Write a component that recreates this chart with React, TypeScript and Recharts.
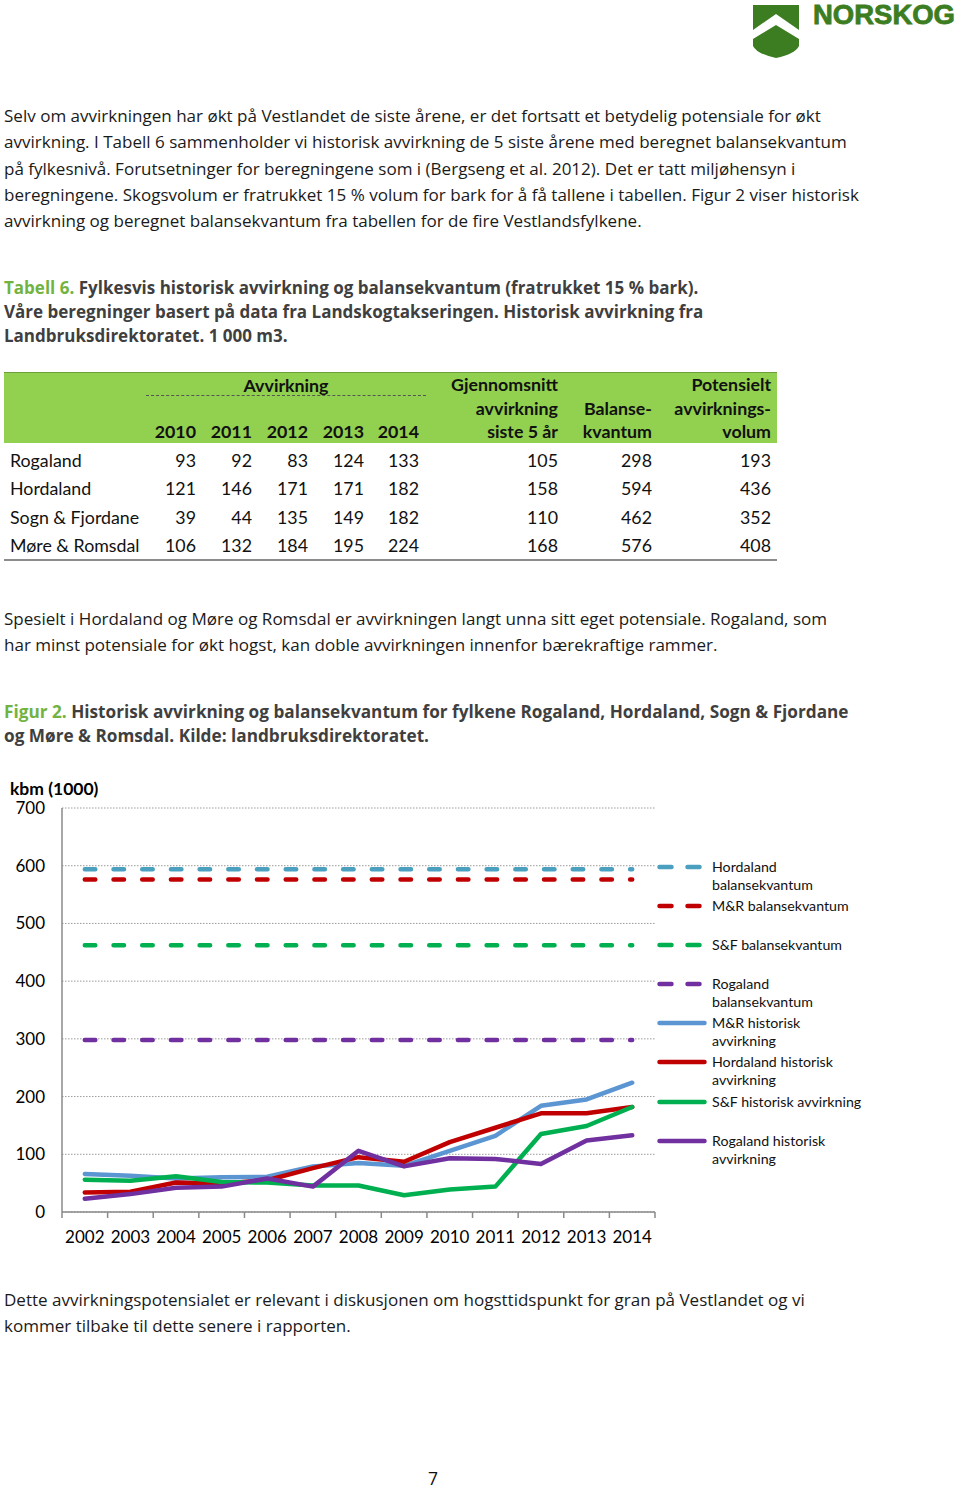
import React from "react";
import { LineChart, Line, XAxis, YAxis, CartesianGrid } from "recharts";

// ---- figure data (1 000 m3) ----
const years = ["2002", "2003", "2004", "2005", "2006", "2007", "2008", "2009", "2010", "2011", "2012", "2013", "2014"];
const rogalandHist = [23, 31, 42, 44, 58, 44, 106, 79, 93, 92, 83, 124, 133];
const hordalandHist = [34, 35, 51, 49, 55, 76, 95, 87, 121, 146, 171, 171, 182];
const sfHist = [56, 54, 62, 52, 51, 46, 46, 29, 39, 44, 135, 149, 182];
const mrHist = [66, 63, 58, 60, 61, 79, 85, 80, 106, 132, 184, 195, 224];
const hordalandBal = 594;
const mrBal = 576;
const sfBal = 462;
const rogalandBal = 298;
const yTicks = [0, 100, 200, 300, 400, 500, 600, 700];

// ---- table data ----
const tableYears = ["2010", "2011", "2012", "2013", "2014"];
const counties = ["Rogaland", "Hordaland", "Sogn & Fjordane", "Møre & Romsdal"];
const avvirkning = [
  [93, 92, 83, 124, 133],
  [121, 146, 171, 171, 182],
  [39, 44, 135, 149, 182],
  [106, 132, 184, 195, 224],
];
const snitt5 = [105, 158, 110, 168];
const balanse = [298, 594, 462, 576];
const potensial = [193, 436, 352, 408];

const chartData = years.map((y, i) => ({
  year: y,
  hBal: hordalandBal,
  mBal: mrBal,
  sBal: sfBal,
  rBal: rogalandBal,
  mHist: mrHist[i],
  hHist: hordalandHist[i],
  sHist: sfHist[i],
  rHist: rogalandHist[i],
}));

const series = [
  { key: "hBal", name: ["Hordaland", "balansekvantum"], color: "#4BA0C0", dashed: true },
  { key: "mBal", name: ["M&R balansekvantum"], color: "#C00000", dashed: true },
  { key: "sBal", name: ["S&F balansekvantum"], color: "#00B050", dashed: true },
  { key: "rBal", name: ["Rogaland", "balansekvantum"], color: "#7030A0", dashed: true },
  { key: "mHist", name: ["M&R historisk", "avvirkning"], color: "#5B95D2", dashed: false },
  { key: "hHist", name: ["Hordaland historisk", "avvirkning"], color: "#C00000", dashed: false },
  { key: "sHist", name: ["S&F historisk avvirkning"], color: "#00B050", dashed: false },
  { key: "rHist", name: ["Rogaland historisk", "avvirkning"], color: "#7030A0", dashed: false },
];

const CHART_FONT = "Lato, 'Liberation Sans', sans-serif";
const BODY_FONT = "'Open Sans', 'Noto Sans', sans-serif";
const AXIS = "#8a8a8a";
const PLOT_LEFT = 62;
const PLOT_RIGHT = 655;
const BAND = (PLOT_RIGHT - PLOT_LEFT) / years.length;

const XTick = (props: any) => {
  const { x, y, payload, index } = props;
  const half = BAND / 2;
  return (
    <g>
      <line x1={x - half} y1={y} x2={x - half} y2={y + 6} stroke={AXIS} strokeWidth={1.5} />
      {index === years.length - 1 && (
        <line x1={x + half} y1={y} x2={x + half} y2={y + 6} stroke={AXIS} strokeWidth={1.5} />
      )}
      <text x={x} y={y + 31} textAnchor="middle" fontSize={17} fill="#000" fontFamily={CHART_FONT}>
        {payload.value}
      </text>
    </g>
  );
};

const para1 = [
  "Selv om avvirkningen har økt på Vestlandet de siste årene, er det fortsatt et betydelig potensiale for økt",
  "avvirkning. I Tabell 6 sammenholder vi historisk avvirkning de 5 siste årene med beregnet balansekvantum",
  "på fylkesnivå. Forutsetninger for beregningene som i (Bergseng et al. 2012). Det er tatt miljøhensyn i",
  "beregningene. Skogsvolum er fratrukket 15 % volum for bark for å få tallene i tabellen. Figur 2 viser historisk",
  "avvirkning og beregnet balansekvantum fra tabellen for de fire Vestlandsfylkene.",
];
const para2 = [
  "Spesielt i Hordaland og Møre og Romsdal er avvirkningen langt unna sitt eget potensiale. Rogaland, som",
  "har minst potensiale for økt hogst, kan doble avvirkningen innenfor bærekraftige rammer.",
];
const para3 = [
  "Dette avvirkningspotensialet er relevant i diskusjonen om hogsttidspunkt for gran på Vestlandet og vi",
  "kommer tilbake til dette senere i rapporten.",
];

function Lines({ lines, top, lh }: { lines: string[]; top: number; lh: number }) {
  return (
    <div style={{ position: "absolute", left: 4, top, fontFamily: BODY_FONT, fontSize: 17.05, lineHeight: lh + "px", color: "#1a1a1a", whiteSpace: "nowrap" }}>
      {lines.map((l, i) => (
        <div key={i}>{l}</div>
      ))}
    </div>
  );
}

function Caption({ label, lines, top, size }: { label: string; lines: string[]; top: number; size: number }) {
  return (
    <div style={{ position: "absolute", left: 4, top, fontFamily: BODY_FONT, fontWeight: 700, fontSize: size, lineHeight: "24px", color: "#3f3f3f", whiteSpace: "nowrap" }}>
      {lines.map((l, i) => (
        <div key={i}>
          {i === 0 && <span style={{ color: "#72B33F" }}>{label} </span>}
          {l}
        </div>
      ))}
    </div>
  );
}

const colW = [142, 56, 56, 56, 56, 56, 137, 94, 120];
const colPad = [0, 6, 6, 6, 6, 7, 5, 5, 6];

function Table() {
  const cell = (i: number, content: any, bold = false, left = false) => (
    <div key={i} style={{ width: colW[i], boxSizing: "border-box", textAlign: left ? "left" : "right", paddingRight: colPad[i], paddingLeft: left ? 6 : 0, fontWeight: bold ? 700 : 400 }}>
      {content}
    </div>
  );
  const row = (cells: any[], h: number, bold: boolean) => (
    <div style={{ display: "flex", height: h, lineHeight: h + "px" }}>
      {cells.map((c, i) => cell(i, c, bold, i === 0))}
    </div>
  );
  return (
    <div style={{ position: "absolute", left: 4, top: 372, width: 773, fontFamily: CHART_FONT, fontSize: 17.8, color: "#111", whiteSpace: "nowrap" }}>
      <div style={{ background: "#92D050", borderTop: "1px solid #6f9e3c", height: 70, position: "relative" }}>
        <div style={{ position: "absolute", left: 142, width: 280, top: 0, textAlign: "center", fontWeight: 700, lineHeight: "24px" }}>Avvirkning</div>
        <div style={{ position: "absolute", left: 142, width: 280, top: 22, borderTop: "1px dashed #555" }} />
        <div style={{ position: "absolute", left: 0, top: 0 }}>
          {row(["", "", "", "", "", "", "Gjennomsnitt", "", "Potensielt"], 23, true)}
          {row(["", "", "", "", "", "", "avvirkning", "Balanse-", "avvirknings-"], 24, true)}
          {row(["", ...tableYears, "siste 5 år", "kvantum", "volum"], 23, true)}
        </div>
      </div>
      <div style={{ paddingTop: 3, borderBottom: "2px solid #8c8c8c" }}>
        {counties.map((c, r) => (
          <div key={c}>{row([c, ...avvirkning[r], snitt5[r], balanse[r], potensial[r]], 28.3, false)}</div>
        ))}
      </div>
    </div>
  );
}

function Logo() {
  return (
    <div style={{ position: "absolute", left: 750, top: 0 }}>
      <svg width={210} height={62}>
        <polygon points="3,5 49,5 49,30 26,14 3,30" fill="#3C7D22" />
        <path d="M3,39 L26,25 L49,39 L49,46 Q45,54 26,58 Q7,54 3,46 Z" fill="#3C7D22" />
        <text x={63} y={24} textLength={142} lengthAdjust="spacingAndGlyphs" fontFamily="'Liberation Sans', Arial, sans-serif" fontWeight={700} fontSize={27.5} fill="#3C7D22" stroke="#3C7D22" strokeWidth={0.8}>
          NORSKOG
        </text>
      </svg>
    </div>
  );
}

function ChartLegend() {
  return (
    <div style={{ position: "absolute", left: 657, top: 78, fontFamily: CHART_FONT, fontSize: 14.2, color: "#111" }}>
      {series.map((s) => (
        <div key={s.key} style={{ height: 39.1, display: "flex" }}>
          <svg width={55} height={18} style={{ flex: "none" }}>
            <line x1={2.5} y1={9} x2={s.dashed ? 43 : 47.5} y2={9} stroke={s.color} strokeWidth={4.5} strokeLinecap="round" strokeDasharray={s.dashed ? "12 16" : undefined} />
          </svg>
          <div style={{ lineHeight: "18px", whiteSpace: "nowrap" }}>
            {s.name.map((n, i) => (
              <div key={i}>{n}</div>
            ))}
          </div>
        </div>
      ))}
    </div>
  );
}

export default function App() {
  return (
    <div style={{ position: "absolute", left: 0, top: 0, width: 960, height: 1490, background: "#fff" }}>
      <Logo />
      <Lines lines={para1} top={103} lh={26.3} />
      <Caption size={17} label="Tabell 6." lines={["Fylkesvis historisk avvirkning og balansekvantum (fratrukket 15 % bark).", "Våre beregninger basert på data fra Landskogtakseringen. Historisk avvirkning fra", "Landbruksdirektoratet. 1 000 m3."]} top={276} />
      <Table />
      <Lines lines={para2} top={606} lh={26.3} />
      <Caption size={17.2} label="Figur 2." lines={["Historisk avvirkning og balansekvantum for fylkene Rogaland, Hordaland, Sogn & Fjordane", "og Møre & Romsdal. Kilde: landbruksdirektoratet."]} top={700} />

      <div style={{ position: "absolute", left: 0, top: 780, width: 960, height: 480 }}>
        <div style={{ position: "absolute", left: 10, top: 0, lineHeight: "17px", fontFamily: CHART_FONT, fontWeight: 700, fontSize: 17.5, color: "#000" }}>kbm (1000)</div>
        <LineChart width={960} height={480} data={chartData} margin={{ top: 28, right: 960 - PLOT_RIGHT, left: 0, bottom: 0 }}>
          <CartesianGrid vertical={false} stroke="#9a9a9a" strokeDasharray="1.5 1.5" />
          <XAxis dataKey="year" height={48} padding={{ left: BAND / 2, right: BAND / 2 }} axisLine={{ stroke: AXIS, strokeWidth: 1.5 }} tickLine={false} tickSize={0} tickMargin={0} tick={<XTick />} interval={0} />
          <YAxis width={PLOT_LEFT} domain={[0, 700]} ticks={yTicks} axisLine={{ stroke: AXIS, strokeWidth: 1.5 }} tickLine={false} tickSize={0} tickMargin={17} tick={{ fontSize: 17, fill: "#000", fontFamily: CHART_FONT }} />
          {series.map((s) => (
            <Line
              key={s.key}
              dataKey={s.key}
              type="linear"
              stroke={s.color}
              strokeWidth={4.5}
              strokeLinecap="round"
              strokeLinejoin="round"
              strokeDasharray={s.dashed ? "10.5 18.2" : undefined}
              dot={false}
              activeDot={false}
              isAnimationActive={false}
            />
          ))}
        </LineChart>
        <ChartLegend />
      </div>

      <Lines lines={para3} top={1287} lh={26.3} />
      <div style={{ position: "absolute", left: 428, top: 1470, lineHeight: "16px", fontFamily: BODY_FONT, fontSize: 17.5, color: "#111" }}>7</div>
    </div>
  );
}
